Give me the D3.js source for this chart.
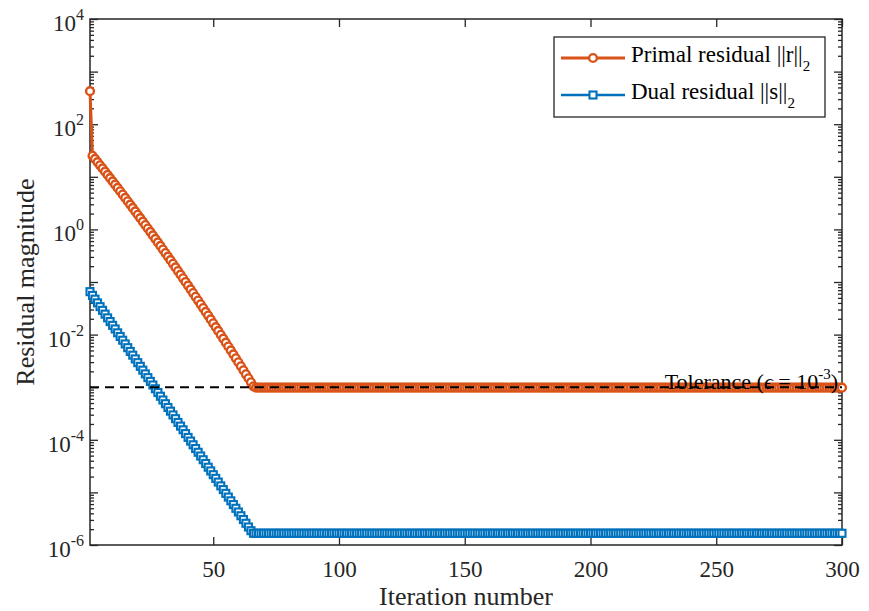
<!DOCTYPE html>
<html>
<head>
<meta charset="utf-8">
<script src="https://cdn.jsdelivr.net/npm/d3@7"></script>
<style>
  html, body { margin: 0; padding: 0; background: #fff; }
  svg { display: block; font-family: "Liberation Serif", "Times New Roman", serif; }
</style>
</head>
<body>
<svg id="chart" width="869" height="611"></svg>
<script>
// ---------------- DATA ----------------
const xTickValues = [50, 100, 150, 200, 250, 300];
const yLabelExponents = [-6, -4, -2, 0, 2, 4];
const toleranceValue = 1e-3;
const seriesNames = ["Primal residual", "Dual residual"];

// Primal residual ||r||_2, iterations 1..300 (30 rows of 10)
const primalResidual = [
425, 25.1, 21.9, 19.04, 16.56, 14.40, 12.51, 10.86, 9.426, 8.175,
7.085, 6.136, 5.311, 4.595, 3.972, 3.431, 2.963, 2.557, 2.204, 1.899,
1.636, 1.408, 1.211, 1.041, 0.8949, 0.7683, 0.6594, 0.5653, 0.4844, 0.4150,
0.3551, 0.3039, 0.2598, 0.2219, 0.1895, 0.1616, 0.1378, 0.1175, 0.1001, 0.0852,
0.0725, 0.0616, 0.0523, 0.0444, 0.0377, 0.0320, 0.0271, 0.0230, 0.0194, 0.0164,
0.0139, 0.01174, 0.00991, 0.00837, 0.00705, 0.00594, 0.00500, 0.00421, 0.00354, 0.00298,
0.00250, 0.00210, 0.00176, 0.00148, 0.00124, 0.00104, 9.8e-4, 9.8e-4, 9.8e-4, 9.8e-4,
9.8e-4, 9.8e-4, 9.8e-4, 9.8e-4, 9.8e-4, 9.8e-4, 9.8e-4, 9.8e-4, 9.8e-4, 9.8e-4,
9.8e-4, 9.8e-4, 9.8e-4, 9.8e-4, 9.8e-4, 9.8e-4, 9.8e-4, 9.8e-4, 9.8e-4, 9.8e-4,
9.8e-4, 9.8e-4, 9.8e-4, 9.8e-4, 9.8e-4, 9.8e-4, 9.8e-4, 9.8e-4, 9.8e-4, 9.8e-4,
9.8e-4, 9.8e-4, 9.8e-4, 9.8e-4, 9.8e-4, 9.8e-4, 9.8e-4, 9.8e-4, 9.8e-4, 9.8e-4,
9.8e-4, 9.8e-4, 9.8e-4, 9.8e-4, 9.8e-4, 9.8e-4, 9.8e-4, 9.8e-4, 9.8e-4, 9.8e-4,
9.8e-4, 9.8e-4, 9.8e-4, 9.8e-4, 9.8e-4, 9.8e-4, 9.8e-4, 9.8e-4, 9.8e-4, 9.8e-4,
9.8e-4, 9.8e-4, 9.8e-4, 9.8e-4, 9.8e-4, 9.8e-4, 9.8e-4, 9.8e-4, 9.8e-4, 9.8e-4,
9.8e-4, 9.8e-4, 9.8e-4, 9.8e-4, 9.8e-4, 9.8e-4, 9.8e-4, 9.8e-4, 9.8e-4, 9.8e-4,
9.8e-4, 9.8e-4, 9.8e-4, 9.8e-4, 9.8e-4, 9.8e-4, 9.8e-4, 9.8e-4, 9.8e-4, 9.8e-4,
9.8e-4, 9.8e-4, 9.8e-4, 9.8e-4, 9.8e-4, 9.8e-4, 9.8e-4, 9.8e-4, 9.8e-4, 9.8e-4,
9.8e-4, 9.8e-4, 9.8e-4, 9.8e-4, 9.8e-4, 9.8e-4, 9.8e-4, 9.8e-4, 9.8e-4, 9.8e-4,
9.8e-4, 9.8e-4, 9.8e-4, 9.8e-4, 9.8e-4, 9.8e-4, 9.8e-4, 9.8e-4, 9.8e-4, 9.8e-4,
9.8e-4, 9.8e-4, 9.8e-4, 9.8e-4, 9.8e-4, 9.8e-4, 9.8e-4, 9.8e-4, 9.8e-4, 9.8e-4,
9.8e-4, 9.8e-4, 9.8e-4, 9.8e-4, 9.8e-4, 9.8e-4, 9.8e-4, 9.8e-4, 9.8e-4, 9.8e-4,
9.8e-4, 9.8e-4, 9.8e-4, 9.8e-4, 9.8e-4, 9.8e-4, 9.8e-4, 9.8e-4, 9.8e-4, 9.8e-4,
9.8e-4, 9.8e-4, 9.8e-4, 9.8e-4, 9.8e-4, 9.8e-4, 9.8e-4, 9.8e-4, 9.8e-4, 9.8e-4,
9.8e-4, 9.8e-4, 9.8e-4, 9.8e-4, 9.8e-4, 9.8e-4, 9.8e-4, 9.8e-4, 9.8e-4, 9.8e-4,
9.8e-4, 9.8e-4, 9.8e-4, 9.8e-4, 9.8e-4, 9.8e-4, 9.8e-4, 9.8e-4, 9.8e-4, 9.8e-4,
9.8e-4, 9.8e-4, 9.8e-4, 9.8e-4, 9.8e-4, 9.8e-4, 9.8e-4, 9.8e-4, 9.8e-4, 9.8e-4,
9.8e-4, 9.8e-4, 9.8e-4, 9.8e-4, 9.8e-4, 9.8e-4, 9.8e-4, 9.8e-4, 9.8e-4, 9.8e-4,
9.8e-4, 9.8e-4, 9.8e-4, 9.8e-4, 9.8e-4, 9.8e-4, 9.8e-4, 9.8e-4, 9.8e-4, 9.8e-4,
9.8e-4, 9.8e-4, 9.8e-4, 9.8e-4, 9.8e-4, 9.8e-4, 9.8e-4, 9.8e-4, 9.8e-4, 9.8e-4,
9.8e-4, 9.8e-4, 9.8e-4, 9.8e-4, 9.8e-4, 9.8e-4, 9.8e-4, 9.8e-4, 9.8e-4, 9.8e-4
];

// Dual residual ||s||_2, iterations 1..300 (30 rows of 10)
const dualResidual = [
0.0655, 0.0556, 0.0472, 0.0401, 0.0340, 0.0289, 0.0245, 0.0208, 0.0177, 0.0150,
0.0128, 0.0108, 0.00920, 0.00782, 0.00664, 0.00564, 0.00479, 0.00406, 0.00345, 0.00293,
0.00249, 0.00211, 0.00179, 0.00152, 0.00129, 0.00110, 9.33e-4, 7.93e-4, 6.73e-4, 5.71e-4,
4.85e-4, 4.12e-4, 3.50e-4, 2.97e-4, 2.52e-4, 2.14e-4, 1.82e-4, 1.55e-4, 1.31e-4, 1.11e-4,
9.46e-5, 8.04e-5, 6.82e-5, 5.79e-5, 4.92e-5, 4.18e-5, 3.55e-5, 3.01e-5, 2.56e-5, 2.17e-5,
1.85e-5, 1.57e-5, 1.33e-5, 1.13e-5, 9.59e-6, 8.15e-6, 6.92e-6, 5.87e-6, 4.99e-6, 4.24e-6,
3.60e-6, 3.05e-6, 2.59e-6, 2.20e-6, 1.87e-6, 1.67e-6, 1.67e-6, 1.67e-6, 1.67e-6, 1.67e-6,
1.67e-6, 1.67e-6, 1.67e-6, 1.67e-6, 1.67e-6, 1.67e-6, 1.67e-6, 1.67e-6, 1.67e-6, 1.67e-6,
1.67e-6, 1.67e-6, 1.67e-6, 1.67e-6, 1.67e-6, 1.67e-6, 1.67e-6, 1.67e-6, 1.67e-6, 1.67e-6,
1.67e-6, 1.67e-6, 1.67e-6, 1.67e-6, 1.67e-6, 1.67e-6, 1.67e-6, 1.67e-6, 1.67e-6, 1.67e-6,
1.67e-6, 1.67e-6, 1.67e-6, 1.67e-6, 1.67e-6, 1.67e-6, 1.67e-6, 1.67e-6, 1.67e-6, 1.67e-6,
1.67e-6, 1.67e-6, 1.67e-6, 1.67e-6, 1.67e-6, 1.67e-6, 1.67e-6, 1.67e-6, 1.67e-6, 1.67e-6,
1.67e-6, 1.67e-6, 1.67e-6, 1.67e-6, 1.67e-6, 1.67e-6, 1.67e-6, 1.67e-6, 1.67e-6, 1.67e-6,
1.67e-6, 1.67e-6, 1.67e-6, 1.67e-6, 1.67e-6, 1.67e-6, 1.67e-6, 1.67e-6, 1.67e-6, 1.67e-6,
1.67e-6, 1.67e-6, 1.67e-6, 1.67e-6, 1.67e-6, 1.67e-6, 1.67e-6, 1.67e-6, 1.67e-6, 1.67e-6,
1.67e-6, 1.67e-6, 1.67e-6, 1.67e-6, 1.67e-6, 1.67e-6, 1.67e-6, 1.67e-6, 1.67e-6, 1.67e-6,
1.67e-6, 1.67e-6, 1.67e-6, 1.67e-6, 1.67e-6, 1.67e-6, 1.67e-6, 1.67e-6, 1.67e-6, 1.67e-6,
1.67e-6, 1.67e-6, 1.67e-6, 1.67e-6, 1.67e-6, 1.67e-6, 1.67e-6, 1.67e-6, 1.67e-6, 1.67e-6,
1.67e-6, 1.67e-6, 1.67e-6, 1.67e-6, 1.67e-6, 1.67e-6, 1.67e-6, 1.67e-6, 1.67e-6, 1.67e-6,
1.67e-6, 1.67e-6, 1.67e-6, 1.67e-6, 1.67e-6, 1.67e-6, 1.67e-6, 1.67e-6, 1.67e-6, 1.67e-6,
1.67e-6, 1.67e-6, 1.67e-6, 1.67e-6, 1.67e-6, 1.67e-6, 1.67e-6, 1.67e-6, 1.67e-6, 1.67e-6,
1.67e-6, 1.67e-6, 1.67e-6, 1.67e-6, 1.67e-6, 1.67e-6, 1.67e-6, 1.67e-6, 1.67e-6, 1.67e-6,
1.67e-6, 1.67e-6, 1.67e-6, 1.67e-6, 1.67e-6, 1.67e-6, 1.67e-6, 1.67e-6, 1.67e-6, 1.67e-6,
1.67e-6, 1.67e-6, 1.67e-6, 1.67e-6, 1.67e-6, 1.67e-6, 1.67e-6, 1.67e-6, 1.67e-6, 1.67e-6,
1.67e-6, 1.67e-6, 1.67e-6, 1.67e-6, 1.67e-6, 1.67e-6, 1.67e-6, 1.67e-6, 1.67e-6, 1.67e-6,
1.67e-6, 1.67e-6, 1.67e-6, 1.67e-6, 1.67e-6, 1.67e-6, 1.67e-6, 1.67e-6, 1.67e-6, 1.67e-6,
1.67e-6, 1.67e-6, 1.67e-6, 1.67e-6, 1.67e-6, 1.67e-6, 1.67e-6, 1.67e-6, 1.67e-6, 1.67e-6,
1.67e-6, 1.67e-6, 1.67e-6, 1.67e-6, 1.67e-6, 1.67e-6, 1.67e-6, 1.67e-6, 1.67e-6, 1.67e-6,
1.67e-6, 1.67e-6, 1.67e-6, 1.67e-6, 1.67e-6, 1.67e-6, 1.67e-6, 1.67e-6, 1.67e-6, 1.67e-6,
1.67e-6, 1.67e-6, 1.67e-6, 1.67e-6, 1.67e-6, 1.67e-6, 1.67e-6, 1.67e-6, 1.67e-6, 1.67e-6
];

// ---------------- LAYOUT / STYLE ----------------
const M = { left: 90, right: 842, top: 19, bottom: 545 };
const AX = "#262626";
const ORANGE = "#D95319", BLUE = "#0072BD";
const SERIF = "Liberation Serif, Times New Roman, serif";

const svg = d3.select("#chart");
const x = d3.scaleLinear().domain([1, 300]).range([M.left, M.right]);
const y = d3.scaleLog().domain([1e-6, 1e4]).range([M.bottom, M.top]);

const decades = d3.range(-6, 5).map(e => Math.pow(10, e));
const minors = [];
d3.range(-6, 4).forEach(e => { for (let m = 2; m <= 9; m++) minors.push(m * Math.pow(10, e)); });

function styleAxis(g) {
  g.select(".domain").remove();
  g.attr("font-family", SERIF);
  g.selectAll(".tick line").attr("stroke", AX).attr("stroke-width", 1.3);
}

// x axes (bottom + top), inward ticks
svg.append("g").attr("transform", `translate(0,${M.bottom})`)
  .call(d3.axisBottom(x).tickValues(xTickValues).tickSizeInner(-8).tickSizeOuter(0).tickPadding(16))
  .call(styleAxis)
  .call(g => g.selectAll(".tick text").attr("fill", AX).attr("font-size", 23));
svg.append("g").attr("transform", `translate(0,${M.top})`)
  .call(d3.axisTop(x).tickValues(xTickValues).tickSizeInner(-8).tickSizeOuter(0).tickFormat(""))
  .call(styleAxis);

// y axes (left + right), inward ticks, major + minor
svg.append("g").attr("transform", `translate(${M.left},0)`)
  .call(d3.axisLeft(y).tickValues(decades).tickSizeInner(-8).tickSizeOuter(0).tickFormat(""))
  .call(styleAxis);
svg.append("g").attr("transform", `translate(${M.left},0)`)
  .call(d3.axisLeft(y).tickValues(minors).tickSizeInner(-4).tickSizeOuter(0).tickFormat(""))
  .call(styleAxis);
svg.append("g").attr("transform", `translate(${M.right},0)`)
  .call(d3.axisRight(y).tickValues(decades).tickSizeInner(-8).tickSizeOuter(0).tickFormat(""))
  .call(styleAxis);
svg.append("g").attr("transform", `translate(${M.right},0)`)
  .call(d3.axisRight(y).tickValues(minors).tickSizeInner(-4).tickSizeOuter(0).tickFormat(""))
  .call(styleAxis);

// y tick labels 10^n
const yl = svg.append("g").attr("fill", AX);
yLabelExponents.forEach(e => {
  const t = yl.append("text").attr("x", M.left - 6).attr("y", y(Math.pow(10, e)) + 12)
    .attr("text-anchor", "end").attr("font-size", 23);
  t.append("tspan").text("10");
  t.append("tspan").attr("font-size", 16).attr("dy", -11).text(String(e));
});

// frame
svg.append("rect").attr("x", M.left).attr("y", M.top)
  .attr("width", M.right - M.left).attr("height", M.bottom - M.top)
  .attr("fill", "none").attr("stroke", AX).attr("stroke-width", 1.5);

// axis titles
svg.append("text").attr("x", (M.left + M.right) / 2).attr("y", 605)
  .attr("text-anchor", "middle").attr("font-size", 26).attr("fill", AX).text("Iteration number");
svg.append("text").attr("transform", `translate(34,${(M.top + M.bottom) / 2}) rotate(-90)`)
  .attr("text-anchor", "middle").attr("font-size", 26).attr("fill", AX).text("Residual magnitude");

// series
const primalPts = primalResidual.map((v, i) => [i + 1, v]);
const dualPts = dualResidual.map((v, i) => [i + 1, v]);
const line = d3.line().x(d => x(d[0])).y(d => y(d[1]));

svg.append("path").datum(primalPts).attr("d", line)
  .attr("fill", "none").attr("stroke", ORANGE).attr("stroke-width", 3);
svg.append("g").selectAll("circle").data(primalPts).join("circle")
  .attr("cx", d => x(d[0])).attr("cy", d => y(d[1])).attr("r", 3.9)
  .attr("fill", "#fff").attr("stroke", ORANGE).attr("stroke-width", 2.4);

svg.append("path").datum(dualPts).attr("d", line)
  .attr("fill", "none").attr("stroke", BLUE).attr("stroke-width", 2.5);
const sq = 7;
svg.append("g").selectAll("rect").data(dualPts).join("rect")
  .attr("x", d => x(d[0]) - sq / 2).attr("y", d => y(d[1]) - sq / 2)
  .attr("width", sq).attr("height", sq)
  .attr("fill", "#fff").attr("stroke", BLUE).attr("stroke-width", 2.1);

// tolerance line + label
svg.append("line").attr("x1", M.left).attr("x2", M.right)
  .attr("y1", y(toleranceValue)).attr("y2", y(toleranceValue))
  .attr("stroke", "#000").attr("stroke-width", 2).attr("stroke-dasharray", "9,6");
const tol = svg.append("text").attr("x", 838).attr("y", y(toleranceValue) + 2)
  .attr("text-anchor", "end").attr("font-size", 22).attr("fill", "#000");
tol.append("tspan").text("Tolerance (");
tol.append("tspan").attr("font-style", "italic").text("\u03F5");
tol.append("tspan").text(" = 10");
tol.append("tspan").attr("font-size", 15).attr("dy", -10).text("-3");
tol.append("tspan").attr("dy", 10).text(")");

// legend
const lg = svg.append("g");
lg.append("rect").attr("x", 554).attr("y", 37).attr("width", 271).attr("height", 80)
  .attr("fill", "#fff").attr("stroke", AX).attr("stroke-width", 1.3);
const rows = [
  { name: seriesNames[0], norm: "r", color: ORANGE, yy: 58, marker: "circle" },
  { name: seriesNames[1], norm: "s", color: BLUE, yy: 95, marker: "square" }
];
rows.forEach(r => {
  lg.append("line").attr("x1", 561).attr("x2", 625).attr("y1", r.yy).attr("y2", r.yy)
    .attr("stroke", r.color).attr("stroke-width", r.marker === "circle" ? 3 : 2.5);
  if (r.marker === "circle") {
    lg.append("circle").attr("cx", 593).attr("cy", r.yy).attr("r", 3.9)
      .attr("fill", "#fff").attr("stroke", r.color).attr("stroke-width", 2.4);
  } else {
    lg.append("rect").attr("x", 593 - sq / 2).attr("y", r.yy - sq / 2).attr("width", sq).attr("height", sq)
      .attr("fill", "#fff").attr("stroke", r.color).attr("stroke-width", 2.1);
  }
  const t = lg.append("text").attr("x", 631).attr("y", r.yy + 4).attr("font-size", 23).attr("fill", "#000");
  t.append("tspan").text(r.name + " ||" + r.norm + "||");
  t.append("tspan").attr("font-size", 15).attr("dy", 9).text("2");
});
</script>
</body>
</html>
